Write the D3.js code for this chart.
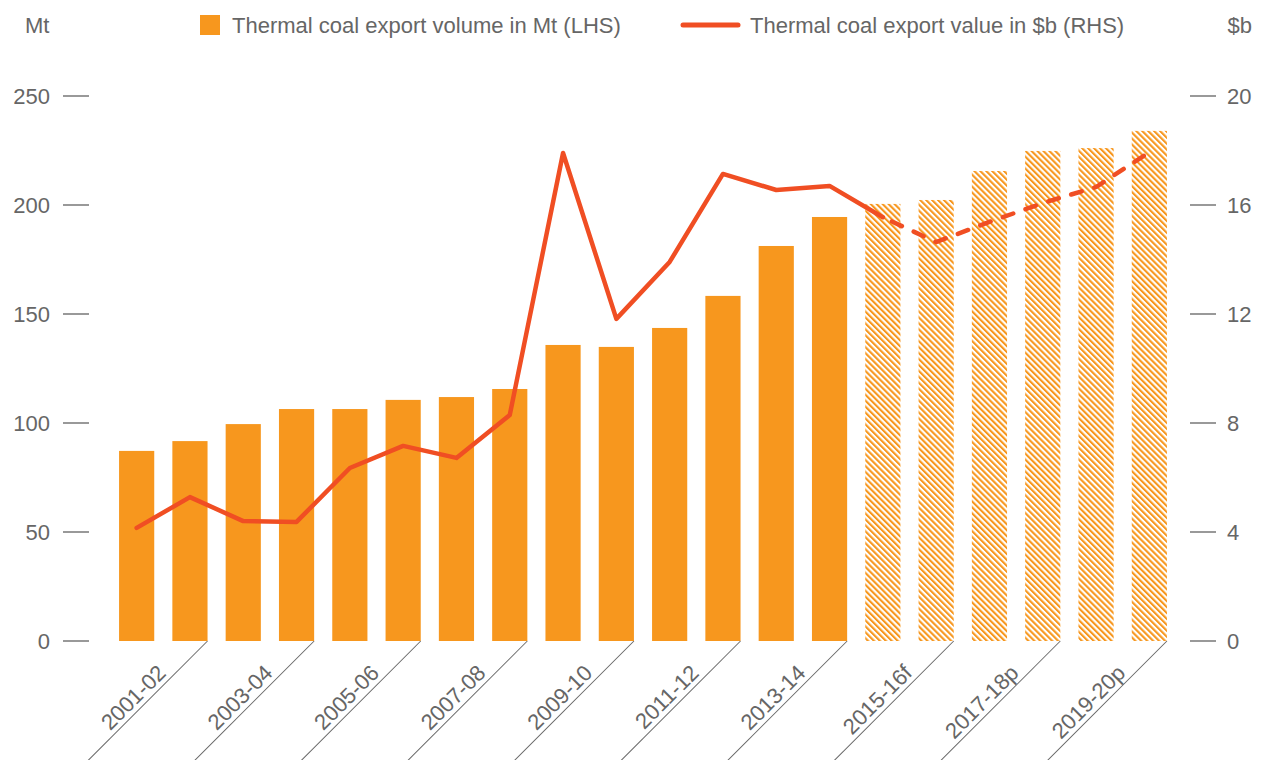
<!DOCTYPE html>
<html>
<head>
<meta charset="utf-8">
<script src="https://cdn.jsdelivr.net/npm/d3@7.9.0/dist/d3.min.js"></script>
<style>
  body { margin: 0; background: #fff; }
  svg { display: block; font-family: "Liberation Sans", Arial, sans-serif; }
  .tick-label { fill: #666; font-size: 22px; }
  .legend-text { fill: #666; font-size: 22px; }
</style>
</head>
<body>
<svg id="chart" width="1266" height="760"></svg>
<script>
// financial years (last six are forecast / projection)
const years = [
  '2001-02', '2002-03', '2003-04', '2004-05', '2005-06', '2006-07', '2007-08',
  '2008-09', '2009-10', '2010-11', '2011-12', '2012-13', '2013-14', '2014-15',
  '2015-16f', '2016-17p', '2017-18p', '2018-19p', '2019-20p', '2020-21p'
];

// export volume, Mt (LHS)
const volume = [
  87.2, 91.7, 99.5, 106.4, 106.4, 110.6, 111.9, 115.6, 135.8, 134.9,
  143.6, 158.3, 181.2, 194.5, 200.5, 202.3, 215.6, 224.8, 226.1, 234.0
];

// export value, $b (RHS)
const value = [
  4.15, 5.28, 4.40, 4.37, 6.35, 7.16, 6.72, 8.29, 17.91, 11.82,
  13.91, 17.14, 16.55, 16.70, 15.55, 14.64, 15.38, 16.07, 16.66, 17.94
];

const forecastFrom = 14;          // index of first forecast year
const lhsTicks = [0, 50, 100, 150, 200, 250];
const rhsTicks = [0, 4, 8, 12, 16, 20];

const orange = '#F7971E';
const red = '#F04E23';
const grey = '#666';

const svg = d3.select('#chart');
const baseY = 641, topY = 96;

const x = d3.scaleBand()
  .domain(years)
  .range([110, 1176])
  .paddingInner(0.34)
  .paddingOuter(0.17);

const yL = d3.scaleLinear().domain([0, 250]).range([baseY, topY]);
const yR = d3.scaleLinear().domain([0, 20]).range([baseY, topY]);

// hatch pattern for forecast bars
const defs = svg.append('defs');
const pat = defs.append('pattern')
  .attr('id', 'hatch')
  .attr('patternUnits', 'userSpaceOnUse')
  .attr('width', 4.2)
  .attr('height', 10)
  .attr('patternTransform', 'rotate(-45)');
pat.append('rect').attr('width', 4.2).attr('height', 10).attr('fill', '#fff');
pat.append('rect').attr('width', 2.1).attr('height', 10).attr('fill', orange);

// left axis: ticks as short dashes, labels right-aligned
const left = svg.append('g');
lhsTicks.forEach(t => {
  left.append('line')
    .attr('x1', 63).attr('x2', 89)
    .attr('y1', yL(t)).attr('y2', yL(t))
    .attr('stroke', '#777').attr('stroke-width', 1.5);
  left.append('text')
    .attr('class', 'tick-label')
    .attr('x', 50).attr('y', yL(t))
    .attr('dy', '0.35em')
    .attr('text-anchor', 'end')
    .text(t);
});

// right axis
const right = svg.append('g');
rhsTicks.forEach(t => {
  right.append('line')
    .attr('x1', 1190).attr('x2', 1216)
    .attr('y1', yR(t)).attr('y2', yR(t))
    .attr('stroke', '#777').attr('stroke-width', 1.5);
  right.append('text')
    .attr('class', 'tick-label')
    .attr('x', 1227).attr('y', yR(t))
    .attr('dy', '0.35em')
    .text(t);
});

// unit labels
svg.append('text').attr('class', 'tick-label')
  .attr('x', 25).attr('y', 33).text('Mt');
svg.append('text').attr('class', 'tick-label')
  .attr('x', 1252).attr('y', 33).attr('text-anchor', 'end').text('$b');

// bars
svg.append('g').selectAll('rect')
  .data(years)
  .join('rect')
  .attr('x', d => x(d))
  .attr('width', x.bandwidth())
  .attr('y', (d, i) => yL(volume[i]))
  .attr('height', (d, i) => baseY - yL(volume[i]))
  .attr('fill', (d, i) => i >= forecastFrom ? 'url(#hatch)' : orange);

// x labels: every other year, with a diagonal leader line
const xl = svg.append('g');
years.forEach((yr, i) => {
  if (i % 2 !== 0) return;
  const ox = x(years[i + 1]) + x.bandwidth();
  const g = xl.append('g')
    .attr('transform', `translate(${ox},${baseY}) rotate(-45)`);
  g.append('line')
    .attr('x1', 0).attr('x2', -200)
    .attr('y1', 0).attr('y2', 0)
    .attr('stroke', grey).attr('stroke-width', 1);
  g.append('text')
    .attr('class', 'tick-label')
    .attr('x', -52).attr('y', -5)
    .attr('text-anchor', 'end')
    .text(yr);
});

// value line: solid up to the first forecast year, dashed after that
const pts = years.map((yr, i) => [x(yr) + x.bandwidth() / 2, yR(value[i])]);
const line = d3.line();

svg.append('path')
  .attr('d', line(pts.slice(0, forecastFrom + 1)))
  .attr('fill', 'none')
  .attr('stroke', red)
  .attr('stroke-width', 4.5)
  .attr('stroke-linejoin', 'round')
  .attr('stroke-linecap', 'round');

svg.append('path')
  .attr('d', line(pts.slice(forecastFrom)))
  .attr('fill', 'none')
  .attr('stroke', red)
  .attr('stroke-width', 4.5)
  .attr('stroke-dasharray', '11,13')
  .attr('stroke-dashoffset', -10)
  .attr('stroke-linecap', 'round');

// legend
const leg = svg.append('g');
leg.append('rect')
  .attr('x', 200).attr('y', 15)
  .attr('width', 20).attr('height', 20)
  .attr('fill', orange);
leg.append('text').attr('class', 'legend-text')
  .attr('x', 232).attr('y', 33)
  .text('Thermal coal export volume in Mt (LHS)');
leg.append('line')
  .attr('x1', 683).attr('x2', 738)
  .attr('y1', 25).attr('y2', 25)
  .attr('stroke', red).attr('stroke-width', 5)
  .attr('stroke-linecap', 'round');
leg.append('text').attr('class', 'legend-text')
  .attr('x', 750).attr('y', 33)
  .text('Thermal coal export value in $b (RHS)');
</script>
</body>
</html>
